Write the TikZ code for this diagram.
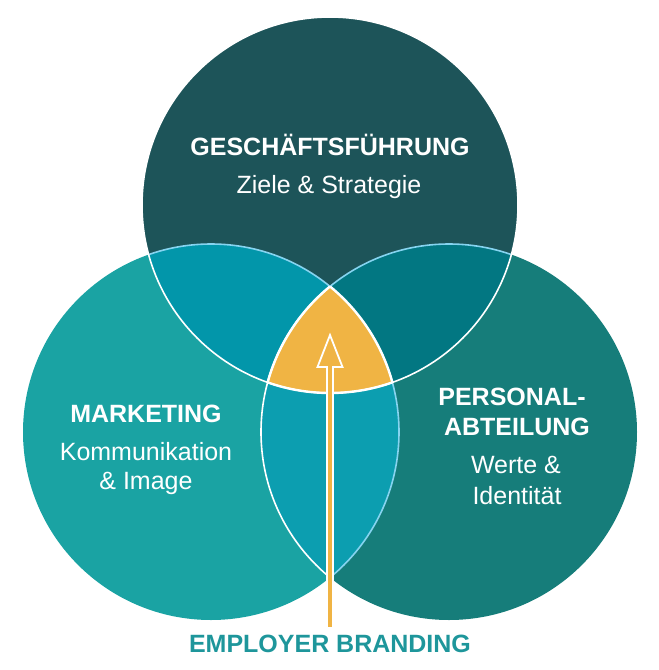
\documentclass[tikz,border=0pt]{standalone}
\usepackage{fontspec}
\setmainfont{Liberation Sans}
\definecolor{topc}{HTML}{1D5459}
\definecolor{leftc}{HTML}{1AA3A3}
\definecolor{rightc}{HTML}{167D7A}
\definecolor{tlc}{HTML}{0296AA}
\definecolor{trc}{HTML}{027782}
\definecolor{lrc}{HTML}{0C9EB0}
\definecolor{yel}{HTML}{F0B444}
\definecolor{lblue}{HTML}{86D4F0}
\definecolor{brand}{HTML}{1E969B}
\begin{document}
\begin{tikzpicture}[x=1pt,y=-1pt,
  lbl/.style={text=white,inner sep=0pt,anchor=base,font=\fontsize{25}{30}\selectfont},
  ttl/.style={lbl,font=\fontsize{25}{30}\selectfont\bfseries},
  edge/.style={line width=1.6pt}]
\useasboundingbox (0,0) rectangle (659,670);
\def\rr{188pt}
\coordinate (T) at (330,205);
\coordinate (L) at (211,432);
\coordinate (R) at (449,432);
% base circles
\fill[leftc] (L) circle[radius=\rr];
\fill[rightc] (R) circle[radius=\rr];
\fill[topc] (T) circle[radius=\rr];
% intersections
\begin{scope}
  \clip (L) circle[radius=\rr];
  \fill[lrc] (R) circle[radius=\rr];
\end{scope}
\begin{scope}
  \clip (T) circle[radius=\rr];
  \fill[tlc] (L) circle[radius=\rr];
  \fill[trc] (R) circle[radius=\rr];
\end{scope}
\begin{scope}
  \clip (T) circle[radius=\rr];
  \clip (L) circle[radius=\rr];
  \fill[yel] (R) circle[radius=\rr];
\end{scope}
% outlines
\begin{scope}
  \clip (T) circle[radius=\rr] (R) circle[radius=\rr];
  \draw[edge,lblue] (L) circle[radius=\rr];
\end{scope}
\begin{scope}
  \clip (T) circle[radius=\rr];
  \draw[edge,lblue] (R) circle[radius=\rr];
\end{scope}
\begin{scope}
  \clip (L) circle[radius=\rr];
  \draw[edge,white] (R) circle[radius=\rr];
\end{scope}
\draw[edge,white] (T) circle[radius=\rr];
\begin{scope}
  \clip (T) circle[radius=\rr];
  \clip (L) circle[radius=\rr];
  \draw[line width=2.4pt,white] (R) circle[radius=\rr];
\end{scope}
\begin{scope}
  \clip (L) circle[radius=\rr];
  \clip (R) circle[radius=\rr];
  \draw[line width=2.4pt,white] (T) circle[radius=\rr];
\end{scope}
\begin{scope}
  \clip (T) circle[radius=\rr];
  \clip (R) circle[radius=\rr];
  \draw[line width=2.4pt,white] (L) circle[radius=\rr];
\end{scope}
% arrow
\coordinate (a1) at (327,628);
\coordinate (a2) at (327,367);
\coordinate (a3) at (317.5,367);
\coordinate (tip) at (330,335);
\coordinate (a5) at (342.5,367);
\coordinate (a6) at (333,367);
\coordinate (a7) at (333,628);
\draw[white,line width=1.8pt,fill=yel,line join=miter]
  (a1) -- (a2) -- (a3) -- (tip) -- (a5) -- (a6) -- (a7) -- cycle;
% texts
\node[ttl] (gf) at (330,155) {GESCHÄFTSFÜHRUNG};
\node[lbl] (gfs) at (329,193) {Ziele \& Strategie};
\node[ttl] (mk) at (146,422) {MARKETING};
\node[lbl] (mk1) at (146,460) {Kommunikation};
\node[lbl] (mk2) at (146,489) {\& Image};
\node[ttl] (pa1) at (512,405) {PERSONAL-};
\node[ttl] (pa2) at (517,435) {ABTEILUNG};
\node[lbl] (pa3) at (516,473) {Werte \&};
\node[lbl] (pa4) at (517,504) {Identität};
\node[ttl,text=brand] (eb) at (330,652) {EMPLOYER BRANDING};
\end{tikzpicture}
\end{document}
